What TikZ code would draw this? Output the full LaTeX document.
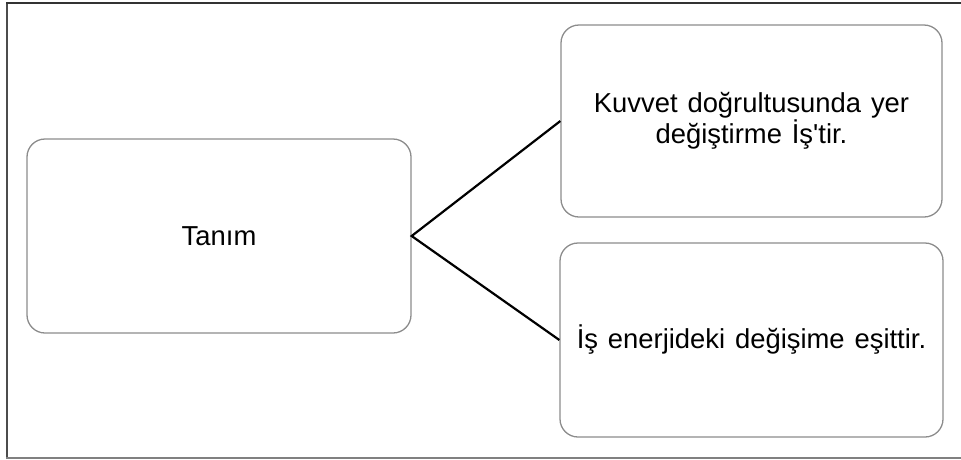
\documentclass[tikz,border=0pt]{standalone}
\usepackage{fontspec}
\setmainfont{Liberation Sans}
% a face without TeX ligatures, so the apostrophe stays straight
\newfontfamily\cardface{Liberation Sans}
\newcommand\cardfont{\cardface\fontsize{27.4}{31}\selectfont\spaceskip=0.36em plus 0.1em\relax}
\begin{document}
\begin{tikzpicture}[x=1pt,y=-1pt,
  card/.style={draw=black!45, line width=1.3pt, rounded corners=18pt,
    inner sep=0pt, align=center, font=\cardfont},
  link/.style={draw=black, line width=2.2pt}]
  \useasboundingbox (0,0) rectangle (961,459);
  % frame around the diagram
  \draw[black!70, line width=2pt] (7,3) -- (7,458);
  \draw[black!80, line width=1.6pt] (6,3) -- (961,3);
  \draw[black!50, line width=1.2pt] (6,458) -- (961,458);
  % boxes
  \node[card, minimum width=384pt, minimum height=194pt] (tanim) at (219,236) {Tanım};
  \node[card, minimum width=381pt, minimum height=192pt] (kuvvet) at (751.5,121)
    {Kuvvet doğrultusunda yer\\değiştirme İş'tir.};
  \node[card, minimum width=383pt, minimum height=194pt] (enerji) at (751.5,340)
    {İş enerjideki değişime eşittir.};
  % connectors
  \draw[link] (kuvvet.west) -- (tanim.east) -- (enerji.west);
\end{tikzpicture}
\end{document}
